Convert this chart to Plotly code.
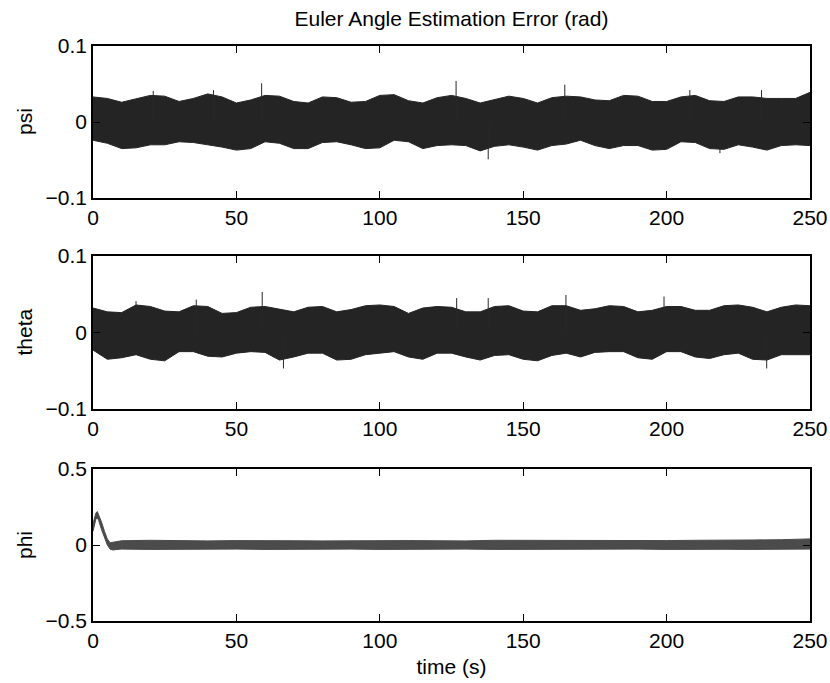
import plotly.graph_objects as go

# ---------------- data ----------------
t5 = list(range(0, 251, 5))

psi_upper = [0.033, 0.031, 0.026, 0.031, 0.035, 0.034, 0.027, 0.031, 0.037, 0.033,
             0.025, 0.029, 0.035, 0.034, 0.027, 0.025, 0.033, 0.032, 0.026, 0.027,
             0.035, 0.036, 0.028, 0.025, 0.032, 0.035, 0.031, 0.025, 0.030, 0.034,
             0.031, 0.025, 0.032, 0.034, 0.033, 0.029, 0.028, 0.035, 0.034, 0.027,
             0.027, 0.033, 0.035, 0.028, 0.027, 0.033, 0.033, 0.031, 0.031, 0.031,
             0.039]
psi_lower = [-0.024, -0.028, -0.035, -0.034, -0.030, -0.030, -0.026, -0.027, -0.030, -0.033,
             -0.037, -0.035, -0.026, -0.028, -0.035, -0.035, -0.027, -0.026, -0.030, -0.035,
             -0.034, -0.024, -0.026, -0.035, -0.031, -0.030, -0.031, -0.038, -0.032, -0.030,
             -0.033, -0.037, -0.031, -0.029, -0.024, -0.031, -0.035, -0.031, -0.031, -0.037,
             -0.036, -0.026, -0.027, -0.035, -0.036, -0.030, -0.033, -0.037, -0.031, -0.030,
             -0.031]
psi_spike_t = [21.0, 42.0, 58.8, 126.6, 137.8, 164.5, 208.1, 218.6, 233.1]
psi_spike_v = [0.041, 0.042, 0.051, 0.054, -0.049, 0.049, 0.042, -0.041, 0.042]

theta_upper = [0.032, 0.027, 0.026, 0.036, 0.034, 0.028, 0.027, 0.035, 0.034, 0.025,
               0.026, 0.033, 0.034, 0.030, 0.027, 0.033, 0.034, 0.027, 0.030, 0.035,
               0.036, 0.034, 0.025, 0.032, 0.034, 0.033, 0.027, 0.027, 0.034, 0.035,
               0.028, 0.027, 0.035, 0.035, 0.029, 0.031, 0.035, 0.034, 0.027, 0.029,
               0.034, 0.034, 0.029, 0.029, 0.035, 0.036, 0.033, 0.027, 0.033, 0.036,
               0.035]
theta_lower = [-0.023, -0.035, -0.033, -0.029, -0.035, -0.037, -0.025, -0.025, -0.031, -0.032,
               -0.027, -0.025, -0.026, -0.036, -0.032, -0.027, -0.027, -0.036, -0.035, -0.029,
               -0.027, -0.025, -0.032, -0.035, -0.027, -0.027, -0.032, -0.036, -0.030, -0.029,
               -0.035, -0.037, -0.030, -0.027, -0.032, -0.026, -0.025, -0.025, -0.033, -0.035,
               -0.025, -0.025, -0.032, -0.034, -0.029, -0.027, -0.035, -0.036, -0.029, -0.029,
               -0.029]
theta_spike_t = [15.0, 36.0, 59.0, 66.4, 126.8, 137.8, 164.9, 199.1, 234.9]
theta_spike_v = [0.041, 0.043, 0.053, -0.047, 0.045, 0.045, 0.049, 0.047, -0.047]

phi_t = [0, 1, 1.5, 2, 3, 4, 5, 6, 7, 8, 10,
         20, 30, 40, 50, 60, 70, 80, 90, 100, 110, 120, 130,
         140, 150, 160, 170, 180, 190, 200, 210, 220, 230, 240, 250]
phi_upper = [0.14, 0.21, 0.22, 0.20, 0.15, 0.09, 0.04, 0.015, 0.018, 0.024, 0.028,
             0.031, 0.027, 0.027, 0.029, 0.030, 0.028, 0.027, 0.029, 0.027, 0.029, 0.028, 0.027,
             0.031, 0.030, 0.029, 0.032, 0.029, 0.028, 0.029, 0.031, 0.030, 0.033, 0.035, 0.040]
phi_lower = [0.09, 0.17, 0.18, 0.16, 0.10, 0.05, 0.0, -0.028, -0.033, -0.030, -0.027,
             -0.029, -0.027, -0.028, -0.027, -0.029, -0.027, -0.028, -0.027, -0.029, -0.027, -0.029,
             -0.027, -0.029, -0.028, -0.027, -0.029, -0.028, -0.027, -0.029, -0.027, -0.028, -0.029,
             -0.027, -0.027]

x_ticks = [0, 50, 100, 150, 200, 250]
psi_ticks = [-0.1, 0, 0.1]
theta_ticks = [-0.1, 0, 0.1]
phi_ticks = [-0.5, 0, 0.5]

title_text = "Euler Angle Estimation Error (rad)"
xlabel_text = "time (s)"
ylabels = ["psi", "theta", "phi"]

# ---------------- figure ----------------
W, H = 830, 683
ML, MR, MT, MB = 93, 20, 46, 62
ph = H - MT - MB


def ydom(top_px, bot_px):
    return [(H - MB - bot_px) / ph, (H - MB - top_px) / ph]


doms = [ydom(46, 198), ydom(256, 409), ydom(469, 621)]

FONT = "Liberation Sans, Arial, sans-serif"
fig = go.Figure()


def add_band(t, up, lo, idx, color):
    xa = "x" if idx == 1 else f"x{idx}"
    ya = "y" if idx == 1 else f"y{idx}"
    fig.add_trace(go.Scatter(x=t, y=up, mode="lines", line=dict(color=color, width=1),
                             xaxis=xa, yaxis=ya, showlegend=False, hoverinfo="skip"))
    fig.add_trace(go.Scatter(x=t, y=lo, mode="lines", line=dict(color=color, width=1),
                             fill="tonexty", fillcolor=color,
                             xaxis=xa, yaxis=ya, showlegend=False, hoverinfo="skip"))


def add_spikes(st, sv, idx, color):
    xa = "x" if idx == 1 else f"x{idx}"
    ya = "y" if idx == 1 else f"y{idx}"
    xs, ys = [], []
    for a, b in zip(st, sv):
        xs += [a, a, None]
        ys += [0, b, None]
    fig.add_trace(go.Scatter(x=xs, y=ys, mode="lines", line=dict(color=color, width=1),
                             xaxis=xa, yaxis=ya, showlegend=False, hoverinfo="skip"))


add_band(t5, psi_upper, psi_lower, 1, "rgb(36,36,36)")
add_spikes(psi_spike_t, psi_spike_v, 1, "rgb(40,40,40)")
add_band(t5, theta_upper, theta_lower, 2, "rgb(36,36,36)")
add_spikes(theta_spike_t, theta_spike_v, 2, "rgb(40,40,40)")
add_band(phi_t, phi_upper, phi_lower, 3, "rgb(75,75,75)")

axis_common = dict(showline=True, linecolor="black", linewidth=1.5, mirror="ticks",
                   ticks="inside", ticklen=7, tickwidth=1.2, tickcolor="black",
                   showgrid=False, zeroline=False, automargin=False,
                   tickfont=dict(family=FONT, size=21, color="black"))

layout = dict(template="none", width=W, height=H, margin=dict(l=ML, r=MR, t=MT, b=MB),
              paper_bgcolor="white", plot_bgcolor="white",
              font=dict(family=FONT, color="black"),
              title=dict(text=title_text, x=0.5, xref="paper", xanchor="center",
                         y=1 - 19 / H, yref="container", yanchor="middle",
                         font=dict(family=FONT, size=21, color="black")))

yticks_all = [psi_ticks, theta_ticks, phi_ticks]
for i in range(3):
    sx = "xaxis" if i == 0 else f"xaxis{i + 1}"
    sy = "yaxis" if i == 0 else f"yaxis{i + 1}"
    anchor_y = "y" if i == 0 else f"y{i + 1}"
    anchor_x = "x" if i == 0 else f"x{i + 1}"
    layout[sx] = dict(axis_common, domain=[0, 1], anchor=anchor_y, range=[0, 250],
                      tickvals=x_ticks, ticktext=[str(v) for v in x_ticks])
    yt = yticks_all[i]
    layout[sy] = dict(axis_common, domain=doms[i], anchor=anchor_x,
                      range=[yt[0], yt[-1]], tickvals=yt)

layout["xaxis3"]["title"] = dict(text=xlabel_text, standoff=8,
                                 font=dict(family=FONT, size=21, color="black"))

annotations = []
for i, lab in enumerate(ylabels):
    d = doms[i]
    annotations.append(dict(text=lab, textangle=-90, x=(24 - ML) / (W - ML - MR), xref="paper",
                            y=(d[0] + d[1]) / 2, yref="paper", xanchor="center", yanchor="middle",
                            showarrow=False, font=dict(family=FONT, size=21, color="black")))
layout["annotations"] = annotations

fig.update_layout(**layout)
fig.write_html("out.html")
